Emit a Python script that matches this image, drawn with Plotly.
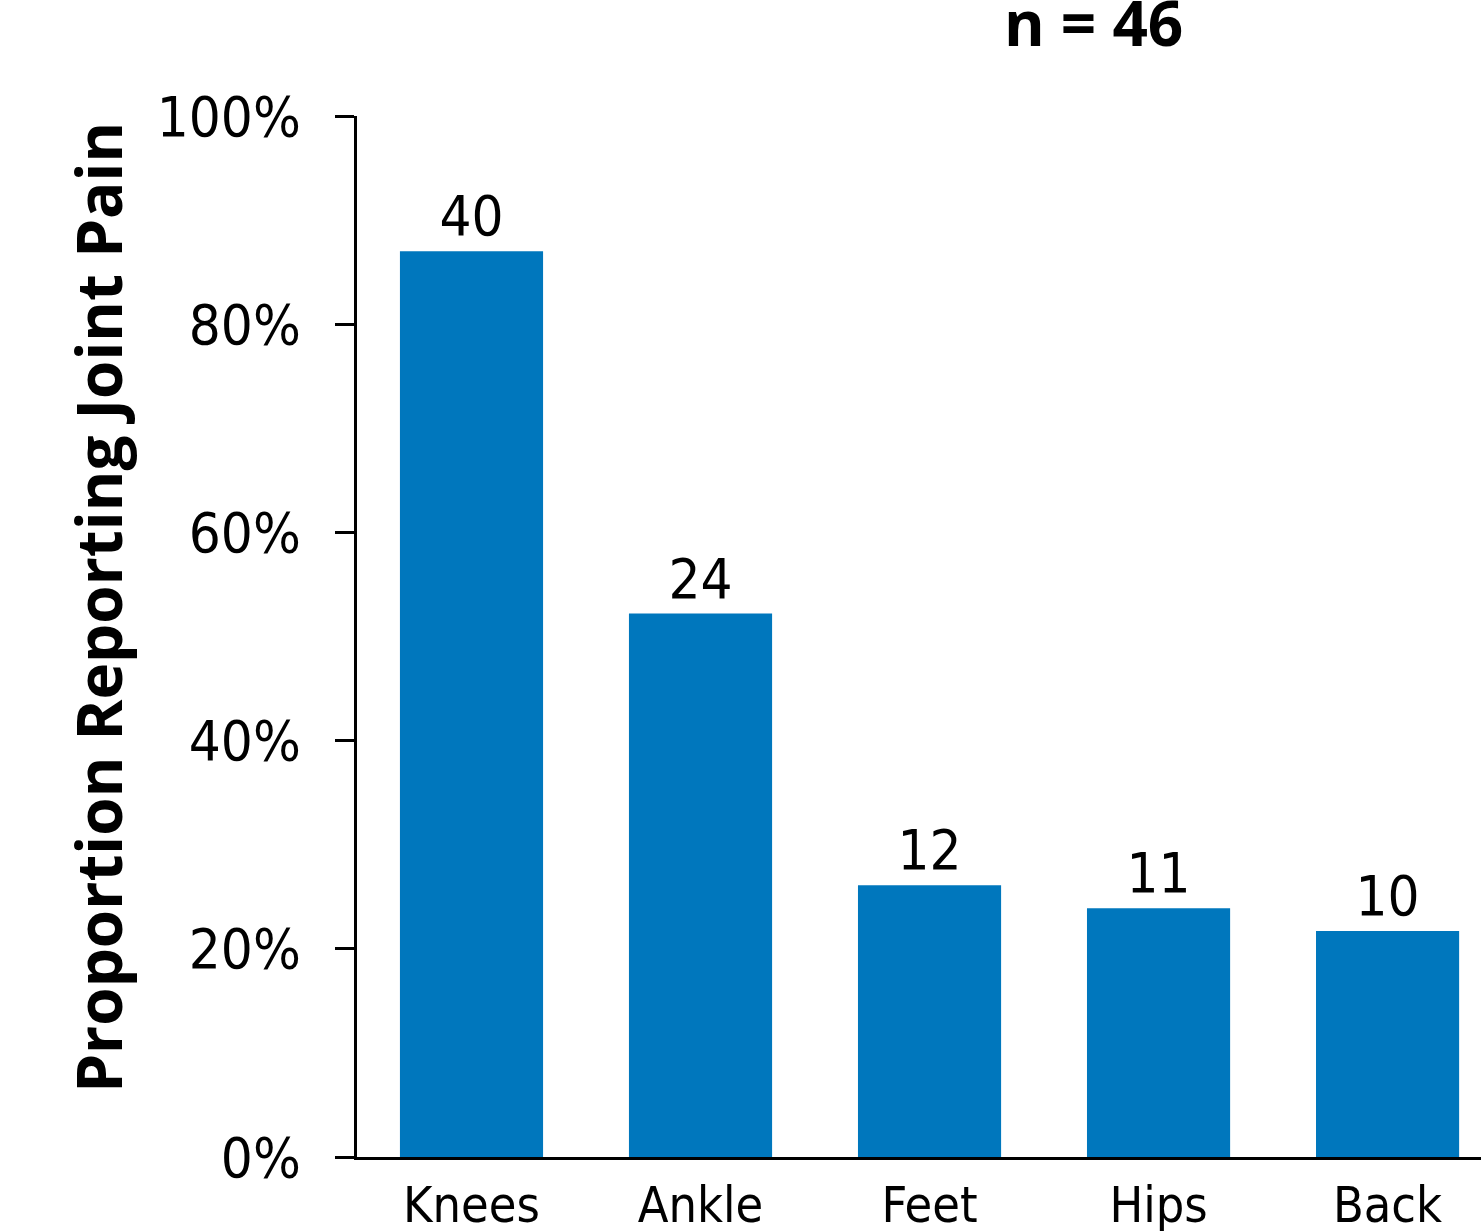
import plotly.graph_objects as go

categories = ["Knees", "Ankle", "Feet", "Hips", "Back"]
counts = [40, 24, 12, 11, 10]
proportions = [0.870, 0.522, 0.261, 0.239, 0.217]
y_ticks = [0, 0.2, 0.4, 0.6, 0.8, 1.0]
y_tick_labels = ["0%", "20%", "40%", "60%", "80%", "100%"]
n_label = "n = 46"
y_title = "Proportion Reporting Joint Pain"

narrow = "DejaVu Sans Condensed, Liberation Sans Narrow, sans-serif"
bold = "Open Sans, Noto Sans, sans-serif"

fig = go.Figure(go.Bar(
    x=list(range(len(categories))),
    y=proportions,
    text=[str(c) for c in counts],
    textposition="outside",
    textfont=dict(family=narrow, size=56, color="black"),
    cliponaxis=False,
    marker=dict(color="#0077BD", line=dict(width=0)),
    width=0.625,
))

fig.update_layout(
    width=1481, height=1231,
    margin=dict(l=357, r=0, t=116, b=74, autoexpand=False),
    paper_bgcolor="white", plot_bgcolor="white",
    showlegend=False,
    xaxis=dict(
        range=[-0.5, 4.408], automargin=False,
        tickmode="array", tickvals=list(range(len(categories))), ticktext=categories,
        tickfont=dict(family=narrow, size=50, color="black"),
        showline=True, linecolor="black", linewidth=3,
        ticks="", showgrid=False, zeroline=False,
        ticklabelstandoff=2,
    ),
    yaxis=dict(
        range=[0, 1], automargin=False,
        tickmode="array", tickvals=y_ticks, ticktext=y_tick_labels,
        tickfont=dict(family=narrow, size=56, color="black"),
        showline=True, linecolor="black", linewidth=3,
        ticks="outside", ticklen=19, tickwidth=3, tickcolor="black",
        showgrid=False, zeroline=False,
        ticklabelstandoff=23,
    ),
    annotations=[
        dict(text="<b>" + y_title + "</b>", textangle=-90,
             xref="paper", yref="paper", x=-0.23, y=0.528,
             xanchor="center", yanchor="middle", showarrow=False,
             font=dict(family=bold, size=62, color="black")),
        dict(text="<b>" + n_label + "</b>",
             xref="paper", yref="paper", x=0.655, y=1.0, yshift=94,
             xanchor="center", yanchor="middle", showarrow=False,
             font=dict(family=bold, size=62, color="black")),
    ],
)

fig.write_html("out.html")
